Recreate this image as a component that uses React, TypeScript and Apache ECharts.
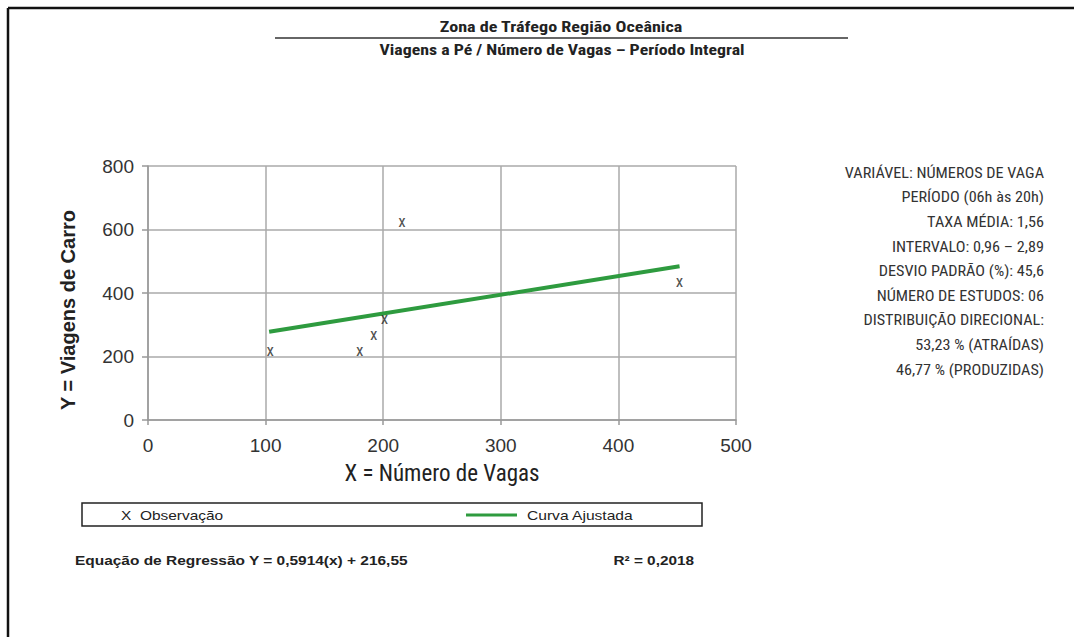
import React, { useEffect, useRef } from "react";
import * as echarts from "echarts";

const obsX = [104, 180, 192, 201, 216, 452];
const obsY = [220, 220, 271, 321, 627, 438];
const fitX = [103, 452];
const fitY = [278, 484];
const xTicks = [0, 100, 200, 300, 400, 500];
const yTicks = [0, 200, 400, 600, 800];
const infoLines = [
  "VARIÁVEL: NÚMEROS DE VAGA",
  "PERÍODO (06h às 20h)",
  "TAXA MÉDIA: 1,56",
  "INTERVALO: 0,96 – 2,89",
  "DESVIO PADRÃO (%): 45,6",
  "NÚMERO DE ESTUDOS: 06",
  "DISTRIBUIÇÃO DIRECIONAL:",
  "53,23 % (ATRAÍDAS)",
  "46,77 % (PRODUZIDAS)",
];
const title1 = "Zona de Tráfego Região Oceânica";
const title2 = "Viagens a Pé / Número de Vagas – Período Integral";
const xName = "X = Número de Vagas";
const yName = "Y = Viagens de Carro";
const eqText = "Equação de Regressão Y = 0,5914(x) + 216,55";
const r2Text = "R² = 0,2018";

const NARROW = "'Liberation Sans Narrow', 'Arial Narrow', 'Roboto Condensed', 'Liberation Sans', sans-serif";
const SANS = "'Liberation Sans', Arial, sans-serif";
const GREEN = "#2e9b3f";

export default function App() {
  const ref = useRef<HTMLDivElement>(null);
  useEffect(() => {
    document.body.style.margin = "0";
    const chart = echarts.init(ref.current!, null, { renderer: "svg" });
    const option: any = {
      animation: false,
      backgroundColor: "#ffffff",
      grid: { left: 148, top: 166, width: 588, height: 254 },
      xAxis: {
        type: "value",
        min: xTicks[0],
        max: xTicks[xTicks.length - 1],
        interval: 100,
        name: xName,
        nameLocation: "middle",
        nameGap: 42,
        nameTextStyle: { fontFamily: NARROW, fontSize: 23, color: "#222" },
        axisLine: { show: true, lineStyle: { color: "#999", width: 1.5 } },
        axisTick: { show: true, length: 5, lineStyle: { color: "#999", width: 1.5 } },
        axisLabel: { fontFamily: SANS, fontSize: 19, color: "#333", margin: 16 },
        splitLine: { show: true, lineStyle: { color: "#aaa", width: 1.5 } },
      },
      yAxis: {
        type: "value",
        min: yTicks[0],
        max: yTicks[yTicks.length - 1],
        interval: 200,
        axisLine: { show: true, lineStyle: { color: "#999", width: 1.5 } },
        axisTick: { show: true, length: 6, lineStyle: { color: "#999", width: 1.5 } },
        axisLabel: { fontFamily: SANS, fontSize: 19, color: "#333", margin: 14 },
        splitLine: { show: true, lineStyle: { color: "#aaa", width: 1.5 } },
      },
      series: [
        {
          name: "Curva Ajustada",
          type: "line",
          data: fitX.map((x, i) => [x, fitY[i]]),
          symbol: "none",
          lineStyle: { color: GREEN, width: 4 },
          z: 3,
        },
        {
          name: "Observação",
          type: "scatter",
          data: obsX.map((x, i) => [x, obsY[i]]),
          symbolSize: 1,
          itemStyle: { color: "rgba(0,0,0,0)" },
          label: {
            show: true,
            position: "inside",
            formatter: "x",
            fontFamily: NARROW,
            fontSize: 17,
            color: "#222",
          },
          z: 4,
        },
      ],
      graphic: [
        { type: "line", shape: { x1: 8, y1: 8, x2: 1074, y2: 8 }, style: { stroke: "#111", lineWidth: 2.5 } },
        { type: "line", shape: { x1: 8, y1: 8, x2: 8, y2: 637 }, style: { stroke: "#111", lineWidth: 2.5 } },
        {
          type: "text", x: 68, y: 310, rotation: Math.PI / 2,
          style: { text: yName, fontFamily: SANS, fontSize: 20, fontWeight: "bold", fill: "#222", align: "center", verticalAlign: "middle" },
        },
        {
          type: "text", x: 561, y: 27, scaleX: 1.21,
          style: { text: title1, fontFamily: NARROW, fontSize: 15, fontWeight: "bold", fill: "#222", align: "center", verticalAlign: "middle" },
        },
        { type: "line", shape: { x1: 275, y1: 38, x2: 848, y2: 38 }, style: { stroke: "#333", lineWidth: 1.5 } },
        {
          type: "text", x: 562, y: 50, scaleX: 1.19,
          style: { text: title2, fontFamily: NARROW, fontSize: 15, fontWeight: "bold", fill: "#222", align: "center", verticalAlign: "middle" },
        },
        ...infoLines.map((t, i) => ({
          type: "text", x: 1044, y: 173 + i * 24.6, scaleX: 1.08,
          style: { text: t, fontFamily: NARROW, fontSize: 15, fill: "#333", align: "right", verticalAlign: "middle" },
        })),
        { type: "rect", shape: { x: 82, y: 503, width: 620, height: 23 }, style: { fill: "#fff", stroke: "#222", lineWidth: 1.5 } },
        {
          type: "text", x: 121, y: 515, scaleX: 1.19,
          style: { text: "X  Observação", fontFamily: SANS, fontSize: 13, fill: "#222", align: "left", verticalAlign: "middle" },
        },
        { type: "line", shape: { x1: 466, y1: 515, x2: 517, y2: 515 }, style: { stroke: GREEN, lineWidth: 3 } },
        {
          type: "text", x: 527, y: 515, scaleX: 1.2,
          style: { text: "Curva Ajustada", fontFamily: SANS, fontSize: 13, fill: "#222", align: "left", verticalAlign: "middle" },
        },
        {
          type: "text", x: 75, y: 560, scaleX: 1.19,
          style: { text: eqText, fontFamily: SANS, fontSize: 13, fontWeight: "bold", fill: "#222", align: "left", verticalAlign: "middle" },
        },
        {
          type: "text", x: 694, y: 560, scaleX: 1.18,
          style: { text: r2Text, fontFamily: SANS, fontSize: 13, fontWeight: "bold", fill: "#222", align: "right", verticalAlign: "middle" },
        },
      ],
    };
    chart.setOption(option);
    return () => chart.dispose();
  }, []);
  return <div ref={ref} style={{ width: 1074, height: 637 }} />;
}
